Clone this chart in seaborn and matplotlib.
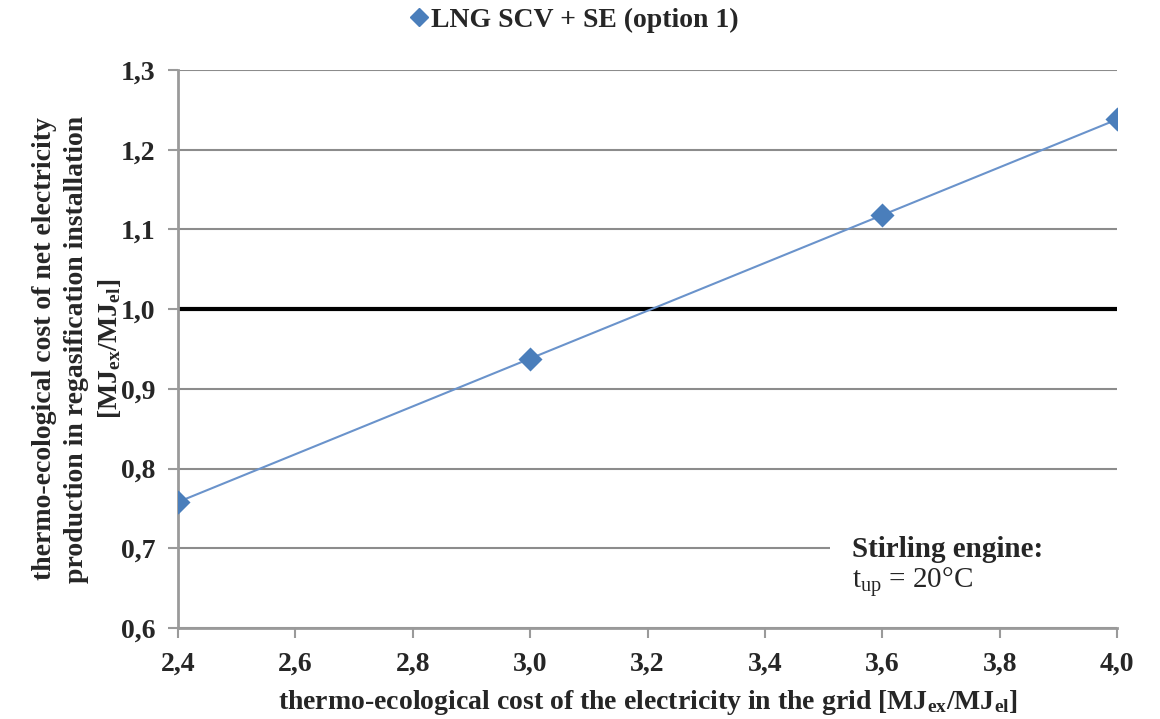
import matplotlib
matplotlib.use("Agg")
import matplotlib.pyplot as plt
import seaborn as sns
import pandas as pd
from matplotlib.ticker import FuncFormatter
from matplotlib.lines import Line2D
from matplotlib.patches import Rectangle

grid_cost = [2.4, 3.0, 3.6, 4.0]
net_cost = [0.758, 0.938, 1.118, 1.238]
series_name = "LNG SCV + SE (option 1)"
reference_level = 1.0
x_ticks = [2.4, 2.6, 2.8, 3.0, 3.2, 3.4, 3.6, 3.8, 4.0]
y_ticks = [0.6, 0.7, 0.8, 0.9, 1.0, 1.1, 1.2, 1.3]

sns.set_theme(style="white")
plt.rcParams['font.family'] = ['Liberation Serif', 'DejaVu Serif']
plt.rcParams['mathtext.fontset'] = 'custom'
plt.rcParams['mathtext.rm'] = 'Liberation Serif'
plt.rcParams['mathtext.it'] = 'Liberation Serif'
plt.rcParams['mathtext.bf'] = 'Liberation Serif:bold'

df = pd.DataFrame({"x": grid_cost, "y": net_cost, "series": series_name})

fig = plt.figure(figsize=(11.6, 7.19), dpi=100)
ax = fig.add_axes([0.1534, 0.1266, 0.8096, 0.776])

blue_line = "#6A93CB"
blue_mark = "#4A7EBB"
ax.axhline(reference_level, color="black", lw=3, zorder=2)
sns.lineplot(data=df, x="x", y="y", hue="series", palette=[blue_line], ax=ax,
             lw=1.5, zorder=3, legend=False)
sns.scatterplot(data=df, x="x", y="y", color=blue_mark, marker="D", s=150,
                edgecolor=blue_mark, linewidth=0, ax=ax, zorder=4, legend=False)

ax.set_xlim(2.4, 4.0)
ax.set_ylim(0.6, 1.3)
ax.set_xticks(x_ticks)
ax.set_yticks(y_ticks)
fmt = FuncFormatter(lambda v, p: f"{v:.1f}".replace(".", ","))
ax.xaxis.set_major_formatter(fmt)
ax.yaxis.set_major_formatter(fmt)
ax.grid(axis="y", color="#8c8c8c", lw=1.5)
ax.set_axisbelow(True)
for s in ["top", "right"]:
    ax.spines[s].set_visible(False)
for s in ["left", "bottom"]:
    ax.spines[s].set_color("#9a9a9a")
    ax.spines[s].set_linewidth(2)
ax.tick_params(axis="both", which="major", length=7, width=1.5, color="#9a9a9a",
               labelsize=20, direction="out", left=True, bottom=True)
ax.tick_params(axis="y", pad=9)
ax.tick_params(axis="x", pad=10)
for lab in ax.get_xticklabels() + ax.get_yticklabels():
    lab.set_fontweight("bold")

ax.set_xlabel(r"thermo-ecological cost of the electricity in the grid [MJ$_{\mathbf{ex}}$/MJ$_{\mathbf{el}}$]",
              fontsize=20, fontweight="bold", labelpad=8)
ax.set_ylabel("thermo-ecological cost of net electricity\nproduction in regasification installation\n"
              r"[MJ$_{\mathbf{ex}}$/MJ$_{\mathbf{el}}$]",
              fontsize=20, fontweight="bold", linespacing=1.35)
ax.yaxis.set_label_coords(-0.058, 0.5)

# legend
h = Line2D([], [], color=blue_mark, marker="D", markersize=9, lw=0)
fig.legend([h], [series_name], loc="upper center", bbox_to_anchor=(0.494, 1.024),
           frameon=False, prop={"weight": "bold", "size": 20}, handletextpad=0.05,
           handlelength=0.8)

# annotation box
ax.add_patch(Rectangle((0.694, 0.04), 0.306, 0.14, transform=ax.transAxes,
                       facecolor="white", edgecolor="none", zorder=1.5))
ax.text(3.548, 0.698, "Stirling engine:", fontsize=21, fontweight="bold",
        ha="left", va="center", zorder=5)
ax.text(3.548, 0.658, r"t$_{\mathrm{up}}$ = 20°C", fontsize=21,
        ha="left", va="center", zorder=5)

fig.savefig("out.png", dpi=100)
